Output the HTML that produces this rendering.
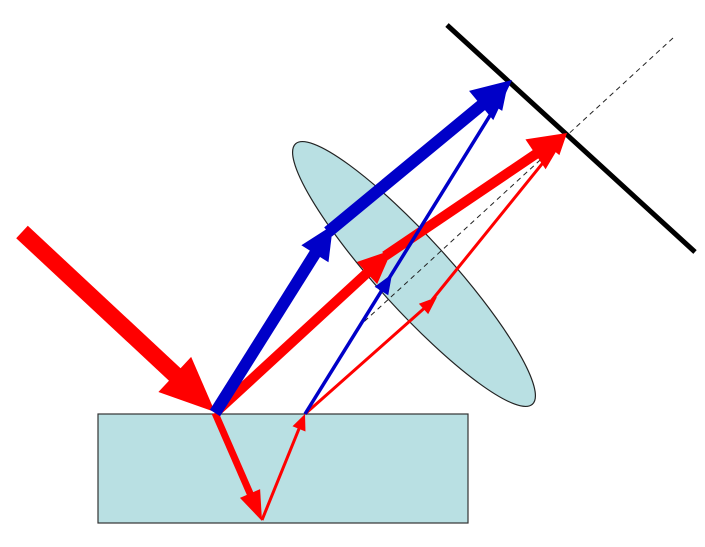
<!DOCTYPE html>
<html><head><meta charset="utf-8"><style>html,body{margin:0;padding:0;background:#fff;width:705px;height:547px;overflow:hidden}</style></head>
<body>
<svg id="s" width="705" height="547" viewBox="0 0 705 547" xmlns="http://www.w3.org/2000/svg">
<rect x="98" y="414" width="370" height="109" fill="#b9e0e3" stroke="#333" stroke-width="1.2"/>
<ellipse cx="414" cy="274" rx="176" ry="36" transform="rotate(47.7 414 274)" fill="#b9e0e3" stroke="#222" stroke-width="1.2"/>
<line x1="673" y1="38" x2="355" y2="330" stroke="#222" stroke-width="1" stroke-dasharray="5,4"/>
<line x1="447" y1="25" x2="695" y2="252" stroke="#000" stroke-width="5"/>
<g id="rays"></g>
</svg>
<script>
const g=document.getElementById('rays');
const NS='http://www.w3.org/2000/svg';
function seg(x1,y1,x2,y2,c,w){const l=document.createElementNS(NS,'line');
l.setAttribute('x1',x1);l.setAttribute('y1',y1);l.setAttribute('x2',x2);l.setAttribute('y2',y2);
l.setAttribute('stroke',c);l.setAttribute('stroke-width',w);


g.appendChild(l);}
function head(x1,y1,x2,y2,c,L,W){const dx=x2-x1,dy=y2-y1,d=Math.hypot(dx,dy),ux=dx/d,uy=dy/d;
const bx=x2-ux*L,by=y2-uy*L;const p=document.createElementNS(NS,'polygon');
p.setAttribute('points',`${x2},${y2} ${bx-uy*W},${by+ux*W} ${bx+uy*W},${by-ux*W}`);p.setAttribute('fill',c);


g.appendChild(p);}
function ray(x1,y1,x2,y2,c,w,L,W){const dx=x2-x1,dy=y2-y1,d=Math.hypot(dx,dy);
seg(x1,y1,x2-dx/d*L*0.8,y2-dy/d*L*0.8,c,w);head(x1,y1,x2,y2,c,L,W);}
const R='#ff0000',B='#0000c8';
// incoming
ray(22,232,215,412,R,17,55,24);
// refracted into slab
ray(215,413,262,521,R,7,30,11);
ray(262,520,305,414,R,3,16,7);
// thin red
ray(305,414,437,297,R,3,18,7);
ray(432,300,567,133,R,3,22,8);
// thick red
ray(215,413,392,250,R,10,34,15);
ray(385,256,567,133,R,10,38,18);
// thick blue
ray(215,413,333,225,B,12,34,16);
ray(328,232,512,80,B,12,40,19);
// thin blue
ray(305,414,392,274,B,3.5,20,8);
ray(388,280,507,88,B,3.5,22,8);
</script>
</body></html>
